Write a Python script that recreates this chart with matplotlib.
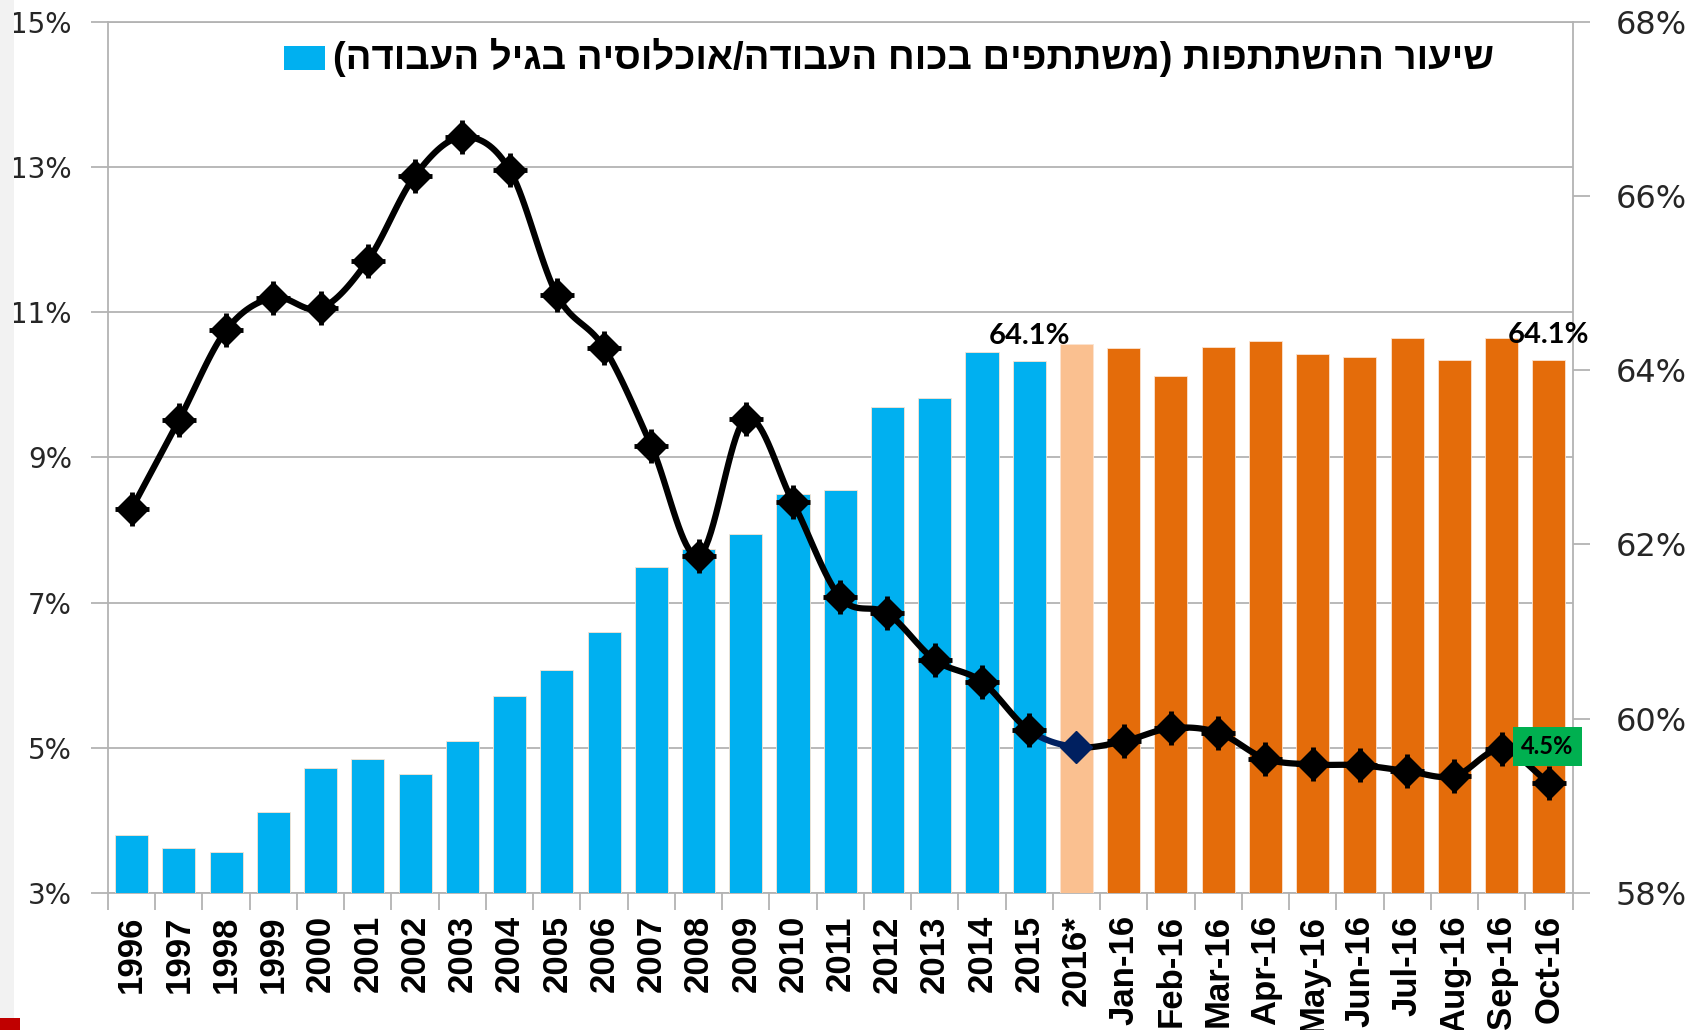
import numpy as np
import matplotlib
matplotlib.use("Agg")
import matplotlib.pyplot as plt
from matplotlib.patches import Rectangle

# categories
labels = [str(y) for y in range(1996, 2016)] + ["2016*"] + \
    ["Jan-16", "Feb-16", "Mar-16", "Apr-16", "May-16", "Jun-16",
     "Jul-16", "Aug-16", "Sep-16", "Oct-16"]

# participation rate (right axis), %
participation = [58.67, 58.52, 58.47, 58.93, 59.43, 59.54, 59.37, 59.75, 60.26, 60.56,
                 60.99, 61.74, 61.95, 62.12, 62.58, 62.62, 63.58, 63.68, 64.21, 64.10,
                 64.30, 64.25, 63.93, 64.27, 64.33, 64.19, 64.15, 64.37, 64.12, 64.37,
                 64.12]

# unemployment rate (left axis), %
unemployment = [8.29, 9.51, 10.75, 11.20, 11.05, 11.71, 12.88, 13.41, 12.96, 11.24,
                10.51, 9.16, 7.64, 9.53, 8.38, 7.07, 6.85, 6.21, 5.91, 5.24,
                5.01, 5.09, 5.27, 5.21, 4.85, 4.77, 4.76, 4.68, 4.61, 4.98,
                4.52]

legend_text = "שיעור ההשתתפות (משתתפים בכוח העבודה/אוכלוסיה בגיל העבודה)"

BLUE = "#00B0F0"
LIGHT_ORANGE = "#FAC090"
ORANGE = "#E46C0A"
NAVY = "#002060"
GRID = "#B3B3B3"


def visual_rtl(s):
    # matplotlib has no bidi: flip the string and mirror the brackets
    out = s[::-1]
    return out.translate(str.maketrans("()", ")("))


def smooth(xs, ys, n=20):
    # catmull-rom style curve, like excel's smoothed line
    xs = np.asarray(xs, float)
    ys = np.asarray(ys, float)
    px = np.concatenate([[2 * xs[0] - xs[1]], xs, [2 * xs[-1] - xs[-2]]])
    py = np.concatenate([[2 * ys[0] - ys[1]], ys, [2 * ys[-1] - ys[-2]]])
    segs = []
    for i in range(1, len(px) - 2):
        t = np.linspace(0, 1, n)
        p0, p1, p2, p3 = py[i - 1], py[i], py[i + 1], py[i + 2]
        yy = 0.5 * ((2 * p1) + (-p0 + p2) * t + (2 * p0 - 5 * p1 + 4 * p2 - p3) * t ** 2
                    + (-p0 + 3 * p1 - 3 * p2 + p3) * t ** 3)
        xx = px[i] + (px[i + 1] - px[i]) * t
        segs.append((xx, yy))
    return segs


fig = plt.figure(figsize=(16.98, 10.30), dpi=100)
fig.patch.set_facecolor("white")
fig.patches.append(Rectangle((0, 0), 0.008, 1, transform=fig.transFigure,
                             facecolor="#F2F2F2", edgecolor="none", zorder=0))
fig.patches.append(Rectangle((0, 0), 0.012, 0.012, transform=fig.transFigure,
                             facecolor="#C00000", edgecolor="none", zorder=1))

ax = fig.add_axes([0.0636, 0.133, 0.8625, 0.846])
x = np.arange(len(labels))

colors = [BLUE] * 20 + [LIGHT_ORANGE] + [ORANGE] * 10
ax.bar(x, np.array(participation) - 58, bottom=58, width=0.7, color=colors,
       edgecolor="#FBE3D0", linewidth=0.6, zorder=3)
ax.set_ylim(58, 68)
ax.set_xlim(-0.5, len(labels) - 0.5)

left_ticks = [3, 5, 7, 9, 11, 13, 15]
for v in left_ticks:
    ax.axhline(58 + (v - 3) * 10 / 12, color=GRID, lw=1.3, zorder=1)

ax.set_xticks(x)
ax.set_xticklabels(labels, rotation=90, fontsize=25, fontweight="bold",
                   family="Liberation Sans")
ax.set_xticks(np.arange(-0.5, len(labels), 1), minor=True)
ax.tick_params(axis="x", which="major", length=0, pad=16)
ax.tick_params(axis="x", which="minor", length=12, color=GRID, width=1.3)

for sp in ax.spines.values():
    sp.set_color(GRID)
    sp.set_linewidth(1.3)

# line on the left axis
ax2 = ax.twinx()
ax2.set_ylim(3, 15)
ax2.yaxis.tick_left()
ax2.set_yticks(left_ticks)
ax2.set_yticklabels([f"{v}%" for v in left_ticks], fontsize=20, color="#262626",
                    family="DejaVu Sans")
ax2.tick_params(axis="y", length=12, color=GRID, width=1.3, pad=14)
for sp in ax2.spines.values():
    sp.set_visible(False)

# twinx moves the first axis' ticks to the left, put them back
ax.yaxis.tick_right()
ax.set_yticks([58, 60, 62, 64, 66, 68])
ax.set_yticklabels([f"{v}%" for v in [58, 60, 62, 64, 66, 68]],
                   fontsize=23, color="#262626", family="DejaVu Sans")
ax.tick_params(axis="y", which="major", length=12, color=GRID, width=1.3, pad=19)

segs = smooth(x, unemployment)
for i, (xx, yy) in enumerate(segs):
    c = NAVY if i == 19 else "black"
    ax2.plot(xx, yy, color=c, lw=4.5, solid_capstyle="round", zorder=4)

mcol = ["black"] * len(x)
mcol[20] = NAVY
for xi, yi, c in zip(x, unemployment, mcol):
    ax2.plot(xi, yi, marker="D", ms=16, color=c, zorder=5)
    if c == "black":
        ax2.plot(xi, yi, marker="+", ms=24, mew=3.5, color=c, zorder=5)

# data labels
for i in (19, 30):
    ax.annotate("64.1%", (x[i], participation[i]), xytext=(0, 18),
                textcoords="offset points", ha="center", va="center",
                fontsize=21, fontweight="bold", family="Lato", zorder=6)
ax2.annotate("4.5%", (x[30], unemployment[30]), xytext=(-1, 26),
             textcoords="offset points", ha="center", va="center",
             fontsize=17, fontweight="bold", family="Lato", zorder=6,
             bbox=dict(boxstyle="square,pad=0.35", facecolor="#00B050", edgecolor="none"))

# legend
fig.patches.append(Rectangle((284 / 1698, 1 - 70 / 1030), 41 / 1698, 24 / 1030,
                             transform=fig.transFigure, facecolor=BLUE,
                             edgecolor="none", zorder=5))
fig.text(1494 / 1698, 1 - 57 / 1030, visual_rtl(legend_text), ha="right", va="center",
         fontsize=27.5, fontweight="bold", family="Liberation Sans")

fig.savefig("out.png", dpi=100)
